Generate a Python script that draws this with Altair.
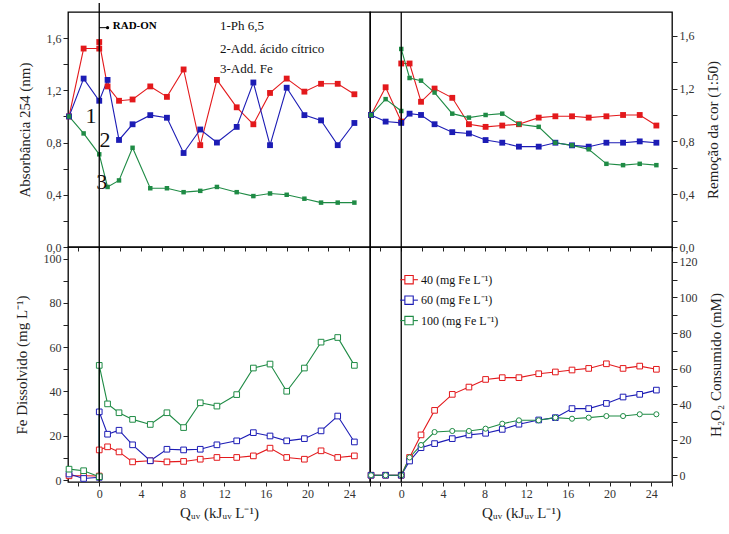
import altair as alt
import pandas as pd

FONT = "Liberation Serif"
SERIES = ["40", "60", "100"]
COLORS = ["#e3191c", "#1c1cb5", "#1f8b45"]

# x positions (kJ_UV/L); X_D has a doubled 0 (two samples at the irradiation start)
X_D = [-2.9, -1.5, 0, 0, 0.8, 1.9, 3.2, 4.9, 6.5, 8.1, 9.7, 11.3, 13.2, 14.8, 16.4, 18.0, 19.7, 21.3, 22.9, 24.5]
X_S = [-2.9, -1.5, 0, 0.8, 1.9, 3.2, 4.9, 6.5, 8.1, 9.7, 11.3, 13.2, 14.8, 16.4, 18.0, 19.7, 21.3, 22.9, 24.5]

# Absorbância 254
ABS_40 = [1.0, 1.52, 1.52, 1.57, 1.23, 1.12, 1.13, 1.23, 1.15, 1.36, 0.78, 1.28, 1.07, 0.94, 1.18, 1.29, 1.19, 1.25, 1.25, 1.17]
ABS_60 = [1.0, 1.29, 1.12, 1.28, 0.82, 0.94, 1.01, 0.99, 0.72, 0.90, 0.80, 0.92, 1.26, 0.78, 1.22, 1.01, 0.97, 0.78, 0.95]
ABS_100 = [1.0, 0.87, 0.71, 0.46, 0.51, 0.76, 0.45, 0.45, 0.42, 0.43, 0.46, 0.42, 0.39, 0.41, 0.40, 0.37, 0.34, 0.34, 0.34]

# Remoção da cor
COR_40 = [1.0, 1.21, 0.95, 1.39, 1.39, 1.10, 1.20, 1.13, 0.93, 0.91, 0.92, 0.93, 0.98, 0.99, 0.99, 0.98, 0.99, 1.0, 1.0, 0.92]
COR_60 = [1.0, 0.95, 0.94, 1.01, 1.0, 0.93, 0.87, 0.86, 0.81, 0.79, 0.76, 0.76, 0.79, 0.77, 0.76, 0.79, 0.79, 0.80, 0.79]
COR_100 = [1.0, 1.12, 1.03, 1.50, 1.28, 1.26, 1.17, 1.01, 0.98, 1.0, 1.01, 0.93, 0.91, 0.79, 0.77, 0.74, 0.63, 0.62, 0.63, 0.62]

# Fe dissolvido
FE_40 = [1.9, 1.9, 1.8, 13.6, 15.0, 12.7, 8.2, 8.7, 8.2, 8.4, 9.4, 10.2, 10.2, 10.9, 14.4, 10.2, 9.4, 13.2, 10.2, 10.9]
FE_60 = [2.7, 0.7, 1.2, 30.8, 20.7, 22.5, 15.9, 8.7, 13.9, 13.6, 13.9, 15.9, 17.7, 21.4, 19.9, 17.7, 18.7, 22.2, 28.9, 17.2]
FE_100 = [4.9, 4.2, 1.5, 51.8, 34.4, 30.4, 27.4, 25.1, 30.4, 23.7, 34.9, 33.4, 38.6, 50.6, 52.4, 40.1, 50.6, 62.3, 64.4, 51.8]

# H2O2 consumido
H2O2_40 = [0, 0, 0, 10, 22.7, 36.5, 45.5, 49.6, 53.9, 54.9, 54.9, 57.1, 58.1, 59.2, 60.1, 62.7, 60.1, 61.4, 59.6]
H2O2_60 = [0, 0, 0, 8, 15.5, 17.8, 20.6, 22.7, 23.6, 25.8, 28.7, 31.1, 32.4, 37.5, 37.5, 40.4, 44.0, 45.5, 47.9]
H2O2_100 = [0, 0, 0, 10, 17, 24.3, 24.9, 24.9, 26.2, 29.0, 30.9, 30.9, 32.4, 31.8, 32.4, 33.3, 33.3, 34.3, 34.3]

LEGEND_LABELS = ["40 (mg Fe L\u207b\u00b9)", "60 (mg Fe L\u207b\u00b9)", " 100 (mg Fe L\u207b\u00b9)"]
NOTES = ["1-Ph 6,5", "2-Add. \u00e1cido c\u00edtrico", "3-Add. Fe"]
STEP_LABELS = ["1", "2", "3"]

XTITLE = "Q\u1d64\u1d65 (kJ\u1d64\u1d65 L\u207b\u00b9)"
W, H = 302, 235
XDOM = [-3, 26]
XT = list(range(-2, 27, 2))


def table(groups):
    rows = []
    for s, xs, ys in groups:
        for i, (x, y) in enumerate(zip(xs, ys)):
            rows.append({"s": s, "x": x, "y": y, "o": i})
    return pd.DataFrame(rows)


comma = "(abs(round(datum.value*10)) % 4 == 0) ? replace(format(datum.value, '.1f'), '.', ',') : ''"
every20 = "datum.value % 20 == 0 ? datum.label : ''"


def xaxis(show):
    if show:
        return alt.Axis(values=XT, labelExpr="datum.value % 4 == 0 ? datum.label : ''", title=XTITLE,
                        tickSize=4, labelPadding=2, titlePadding=6, domain=False, grid=False,
                        labelOverlap=False, labelFlush=False)
    return alt.Axis(values=XT, labels=False, title=None, tickSize=4, domain=False, grid=False)


def yaxis(title, orient, values, expr):
    kw = dict(values=values, labelExpr=expr, title=title, orient=orient, tickSize=5,
              labelPadding=2, domain=False, grid=False, labelOverlap=False)
    if orient == "right":
        kw.update(titleAngle=270, titleBaseline="top", titlePadding=11)
    else:
        kw.update(titlePadding=14)
    return alt.Axis(**kw)


color = alt.Color("s:N", scale=alt.Scale(domain=SERIES, range=COLORS), legend=None)
stroke = alt.Stroke("s:N", scale=alt.Scale(domain=SERIES, range=COLORS), legend=None)


def panel(df, ydom, yax, showx, hollow, circle_green=False, extra=()):
    X = alt.X("x:Q", scale=alt.Scale(domain=XDOM, nice=False, zero=False), axis=xaxis(showx))
    Y = alt.Y("y:Q", scale=alt.Scale(domain=ydom, nice=False, zero=False), axis=yax)
    base = alt.Chart(df)
    line = base.mark_line(strokeWidth=1.1).encode(x=X, y=Y, color=color, order="o:Q")
    layers = [line]
    if hollow:
        if circle_green:
            sq = base.transform_filter("datum.s != '100'").mark_point(
                shape="square", filled=True, fill="white", strokeWidth=1, size=32, opacity=1
            ).encode(x=X, y=Y, stroke=stroke)
            ci = base.transform_filter("datum.s == '100'").mark_point(
                shape="circle", filled=True, fill="white", strokeWidth=1, size=26, opacity=1
            ).encode(x=X, y=Y, stroke=stroke)
            layers += [sq, ci]
        else:
            layers.append(base.mark_point(shape="square", filled=True, fill="white", strokeWidth=1,
                                          size=32, opacity=1).encode(x=X, y=Y, stroke=stroke))
    else:
        layers.append(base.mark_point(shape="square", filled=True, opacity=1).encode(
            x=X, y=Y, color=color,
            size=alt.condition("datum.s == '100'", alt.value(20), alt.value(34))))
    for f in extra:
        layers.append(f(X, Y))
    return alt.layer(*layers).properties(width=W, height=H)


def vline(extend=False):
    def make(X, Y):
        r = alt.Chart(pd.DataFrame({"x": [0]})).mark_rule(color="black", strokeWidth=1.3)
        if extend:
            return r.encode(x=X, y=alt.value(-9), y2=alt.value(H))
        return r.encode(x=X)
    return make


def radon_line(X, Y):
    return alt.Chart(pd.DataFrame({"x": [0, 0.8], "y": [1.68, 1.68]})).mark_line(
        color="black", strokeWidth=1).encode(x=X, y=Y)


def radon_dot(X, Y):
    return alt.Chart(pd.DataFrame({"x": [0.8], "y": [1.68]})).mark_point(
        shape="circle", filled=True, color="black", size=10, opacity=1).encode(x=X, y=Y)


def radon_txt(X, Y):
    return alt.Chart(pd.DataFrame({"x": [1.3], "y": [1.69], "t": ["RAD-ON"]})).mark_text(
        font=FONT, fontSize=11, fontWeight="bold", align="left", baseline="middle", color="black"
    ).encode(x=X, y=Y, text="t:N")


def notes(X, Y):
    return alt.Chart(pd.DataFrame({"x": [11.6] * 3, "y": [1.69, 1.52, 1.36], "t": NOTES})).mark_text(
        font=FONT, fontSize=13, align="left", baseline="middle", color="#111"
    ).encode(x=X, y=Y, text="t:N")


def steps(X, Y):
    return alt.Chart(pd.DataFrame({"x": [-0.8, 0.55, 0.25], "y": [1.0, 0.82, 0.5], "t": STEP_LABELS})).mark_text(
        font=FONT, fontSize=22, align="center", baseline="middle", color="#111"
    ).encode(x=X, y=Y, text="t:N")


# bottom-right legend (drawn in data space)
leg_y = [110, 98.5, 87]


def leg_lines(X, Y):
    return alt.Chart(pd.DataFrame({
        "x": [-0.1, 1.6] * 3, "y": [v for v in leg_y for _ in range(2)],
        "s": [s for s in SERIES for _ in range(2)]})).mark_line(strokeWidth=1.1).encode(
        x=X, y=Y, color=color, detail="s:N")


def leg_pts(X, Y):
    return alt.Chart(pd.DataFrame({"x": [0.75] * 3, "y": leg_y, "s": SERIES})).mark_point(
        shape="square", filled=True, fill="white", strokeWidth=1.1, size=70, opacity=1).encode(
        x=X, y=Y, stroke=stroke)


def leg_txt(X, Y):
    return alt.Chart(pd.DataFrame({"x": [1.9] * 3, "y": leg_y, "t": LEGEND_LABELS})).mark_text(
        font=FONT, fontSize=12, align="left", baseline="middle", color="#111").encode(
        x=X, y=Y, text="t:N")


tl = panel(table([("40", X_D, ABS_40), ("60", X_S, ABS_60), ("100", X_S, ABS_100)]),
           [0, 1.8],
           yaxis("Absorb\u00e2ncia 254 (nm)", "left", [round(0.2 * i, 1) for i in range(9)], comma),
           False, False,
           extra=[vline(True), radon_line, radon_dot, radon_txt, notes, steps])
tr = panel(table([("40", X_D, COR_40), ("60", X_S, COR_60), ("100", X_D, COR_100)]),
           [0, 1.78],
           yaxis("Remo\u00e7\u00e3o da cor (1:50)", "right", [round(0.2 * i, 1) for i in range(9)], comma),
           False, False, extra=[vline()])
bl = panel(table([("40", X_D, FE_40), ("60", X_D, FE_60), ("100", X_D, FE_100)]),
           [-0.9, 105.3],
           yaxis("Fe Dissolvido (mg L\u207b\u00b9)", "left", list(range(0, 101, 10)), every20),
           True, True, extra=[vline()])
br = panel(table([("40", X_S, H2O2_40), ("60", X_S, H2O2_60), ("100", X_S, H2O2_100)]),
           [-3.8, 128.4],
           yaxis("H\u2082O\u2082 Consumido (mM)", "right", list(range(0, 121, 10)), every20),
           True, True, circle_green=True, extra=[vline(), leg_lines, leg_pts, leg_txt])

chart = alt.concat(tl, tr, bl, br, columns=2, spacing=0, bounds="flush").properties(
    padding={"left": 13, "top": 1, "right": 5, "bottom": 5}, background="white"
).configure_view(stroke="black", strokeWidth=1.3).configure_axis(
    labelFont=FONT, titleFont=FONT, labelFontSize=12, titleFontSize=15, titleFontWeight="normal",
    labelColor="#333", titleColor="#222", tickColor="#222"
)

chart.save("out.html", embed_options={"renderer": "svg", "actions": False})
